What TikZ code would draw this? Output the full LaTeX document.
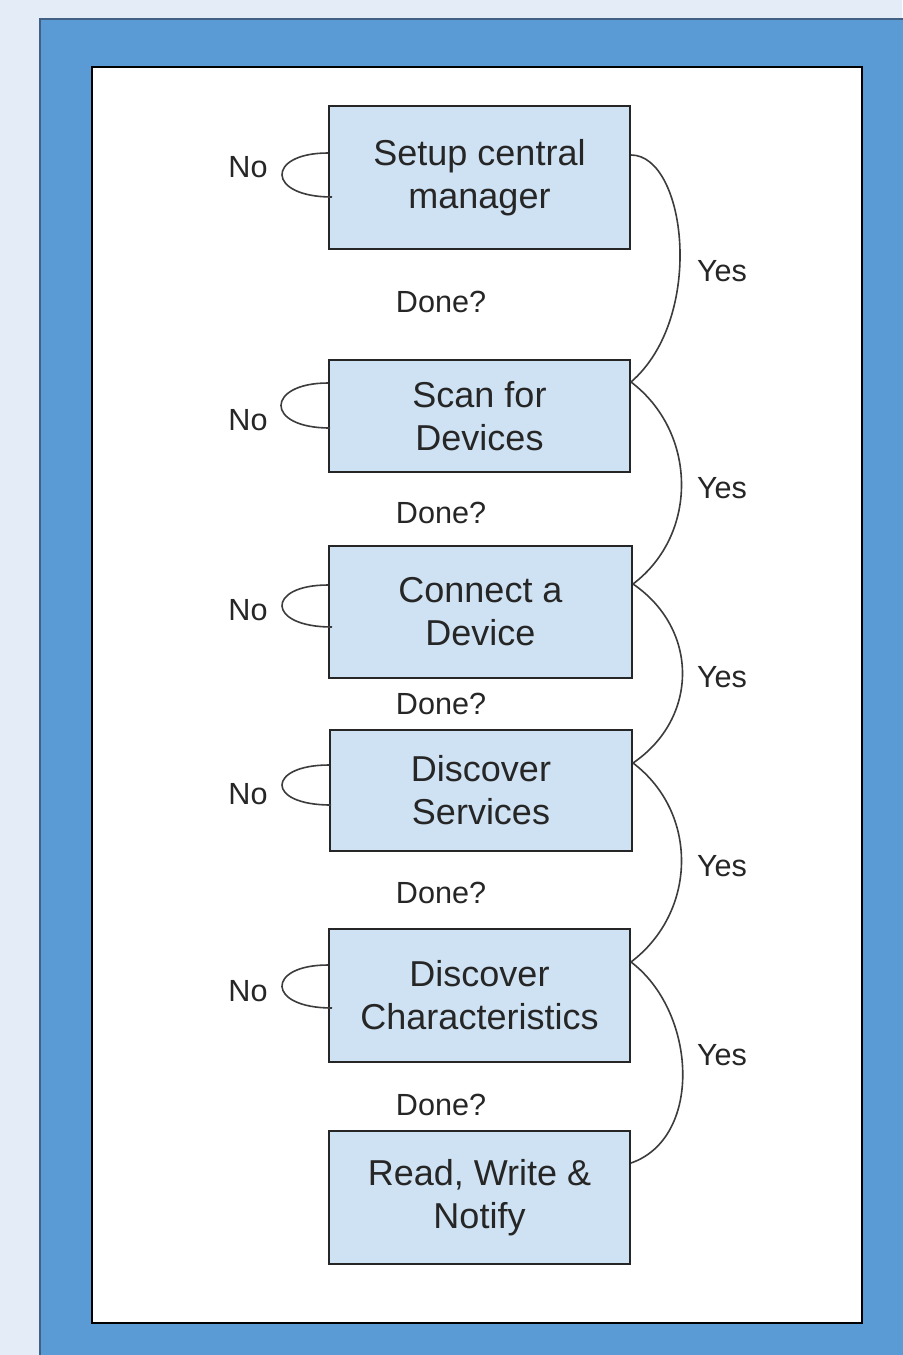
\documentclass[tikz,border=0pt]{standalone}
\usepackage{fontspec}
\setmainfont{Liberation Sans}
\usepackage{tikz}
\definecolor{pagebg}{RGB}{228,236,247}
\definecolor{frameblue}{RGB}{91,155,213}
\definecolor{frameedge}{RGB}{66,96,130}
\definecolor{stepfill}{RGB}{207,226,243}
\definecolor{ink}{RGB}{38,38,38}
\tikzset{
  stepbox/.style = {shape=rectangle, draw=ink, line width=1pt,
                    fill=stepfill, align=center, text=ink,
                    font=\fontsize{18}{21.5}\selectfont},
  answer/.style  = {text=ink, font=\fontsize{15.3}{18}\selectfont},
  link/.style    = {draw=ink!90, line width=0.8pt}
}

\begin{document}
\begin{tikzpicture}
 [x=0.5pt, y=-0.5pt]

  \useasboundingbox (0,0) rectangle (902,1355);
  \fill[pagebg] (0,0) rectangle (902,1355);
  \draw[fill=frameblue, draw=frameedge, line width=0.8pt] (40,19) rectangle (920,1380);
  \draw[fill=white, draw=black, line width=1.1pt] (92,67) rectangle (862,1323);

  \node [stepbox, minimum width=150.5pt, minimum height=71.5pt]
    (setup) at (479.5,177.5) {Setup central\\manager};
  \node [stepbox, minimum width=150.5pt, minimum height=56pt]
    (scan) at (479.5,416) {Scan for\\Devices};
  \node [stepbox, minimum width=151.5pt, minimum height=66pt]
    (connect) at (480.5,612) {Connect a\\Device};
  \node [stepbox, minimum width=151pt, minimum height=60.5pt]
    (services) at (481,790.5) {Discover\\Services};
  \node [stepbox, minimum width=150.5pt, minimum height=66.5pt]
    (chars) at (479.5,995.5) {Discover\\Characteristics};
  \node [stepbox, minimum width=150.5pt, minimum height=66.5pt]
    (notify) at (479.5,1197.5) {Read, Write \&\\Notify};

  % done -> next step
  \draw[link] ([yshift=11.25pt]setup.east)
    .. controls +(55,0) and +(75,-65) .. ([yshift=17pt]scan.east);
  \draw[link] ([yshift=17pt]scan.east)
    .. controls +(66,50) and +(66,-50) .. ([yshift=14pt]connect.east);
  \draw[link] ([yshift=14pt]connect.east)
    .. controls +(66,45) and +(66,-45) .. ([yshift=13.75pt]services.east);
  \draw[link] ([yshift=13.75pt]services.east)
    .. controls +(66,50) and +(66,-50) .. ([yshift=16.75pt]chars.east);
  \draw[link] ([yshift=16.75pt]chars.east)
    .. controls +(66,50) and +(72,-25) .. ([yshift=17.25pt]notify.east);

  % not done -> stay
  \draw[link] ([yshift=12.25pt]setup.west)
    .. controls +(-62,0) and +(-66,0) .. ([xshift=2pt,yshift=-9.75pt]setup.west);
  \draw[link] ([yshift=16.5pt]scan.west)
    .. controls +(-62,0) and +(-66,0) .. ([xshift=1pt,yshift=-6pt]scan.west);
  \draw[link] ([yshift=13.5pt]connect.west)
    .. controls +(-62,0) and +(-66,0) .. ([xshift=2pt,yshift=-7.5pt]connect.west);
  \draw[link] ([yshift=12.75pt]services.west)
    .. controls +(-62,0) and +(-66,0) .. ([xshift=1pt,yshift=-7.25pt]services.west);
  \draw[link] ([yshift=15.25pt]chars.west)
    .. controls +(-62,0) and +(-66,0) .. ([xshift=2pt,yshift=-6.25pt]chars.west);

  \node [answer] (no1) at (248,167) {No};
  \node [answer] (no2) at (248,420) {No};
  \node [answer] (no3) at (248,610) {No};
  \node [answer] (no4) at (248,794) {No};
  \node [answer] (no5) at (248,991) {No};

  \node [answer] (yes1) at (722,271) {Yes};
  \node [answer] (yes2) at (722,488) {Yes};
  \node [answer] (yes3) at (722,677) {Yes};
  \node [answer] (yes4) at (722,866) {Yes};
  \node [answer] (yes5) at (722,1055) {Yes};

  \node [answer] (done1) at (441,302) {Done?};
  \node [answer] (done2) at (441,513) {Done?};
  \node [answer] (done3) at (441,704) {Done?};
  \node [answer] (done4) at (441,893) {Done?};
  \node [answer] (done5) at (441,1105) {Done?};
\end{tikzpicture}
\end{document}
